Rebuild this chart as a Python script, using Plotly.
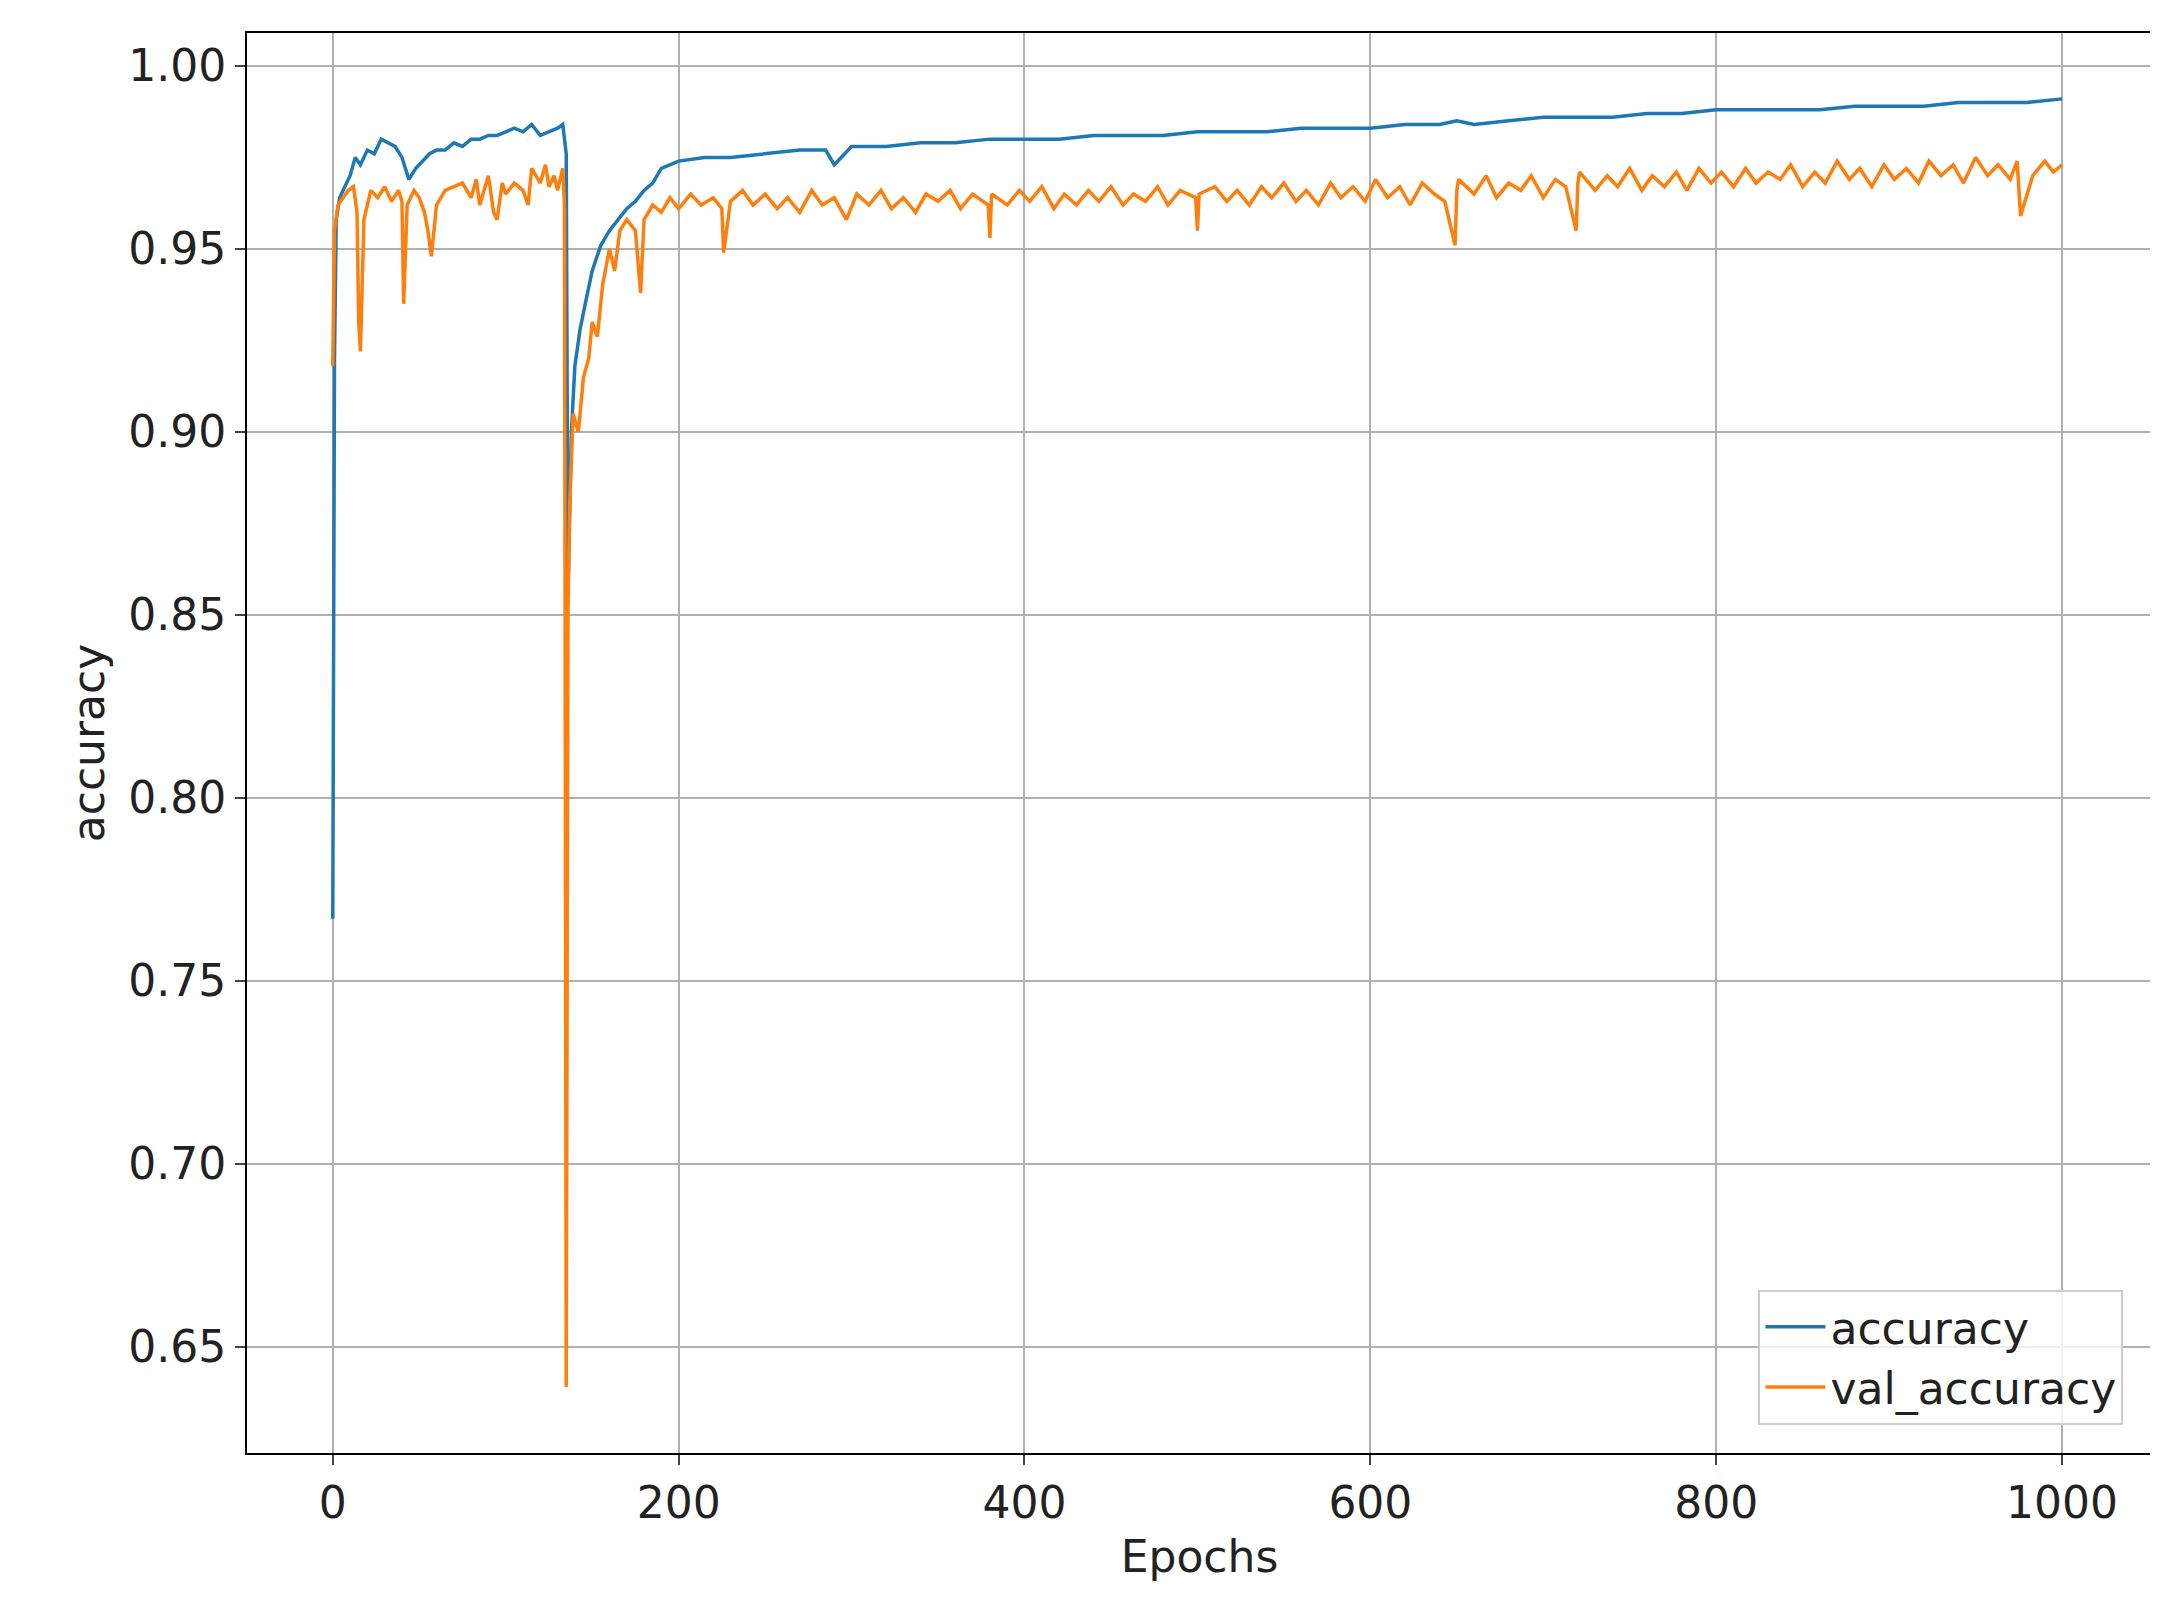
import plotly.graph_objects as go

# values
epochs_acc = [0, 1, 2, 4, 6, 8, 10, 13, 16, 20, 24, 28, 32, 36, 40, 44, 48, 52, 56, 60, 65, 70, 75, 80, 85, 90,
              95, 100, 105, 110, 115, 120, 125, 130, 133, 135, 136, 138, 140, 143, 146, 150, 155, 160, 165,
              170, 175, 180, 185, 190, 200, 215, 230, 250, 270, 285, 290, 300, 320, 340, 360, 380, 400,
              420, 440, 460, 480, 500, 520, 540, 560, 580, 600, 620, 640, 650, 660, 680, 700, 720, 740,
              760, 780, 800, 820, 840, 860, 880, 900, 920, 940, 960, 980, 1000]
accuracy = [0.767, 0.92, 0.958, 0.964, 0.966, 0.968, 0.970, 0.975, 0.973, 0.977, 0.976, 0.980, 0.979, 0.978,
            0.975, 0.969, 0.972, 0.974, 0.976, 0.977, 0.977, 0.979, 0.978, 0.980, 0.980, 0.981,
            0.981, 0.982, 0.983, 0.982, 0.984, 0.981, 0.982, 0.983, 0.984, 0.976, 0.855, 0.900, 0.918,
            0.928, 0.935, 0.944, 0.951, 0.955, 0.958, 0.961, 0.963, 0.966, 0.968, 0.972, 0.974, 0.975,
            0.975, 0.976, 0.977, 0.977, 0.973, 0.978, 0.978, 0.979, 0.979, 0.980, 0.980,
            0.980, 0.981, 0.981, 0.981, 0.982, 0.982, 0.982, 0.983, 0.983, 0.983, 0.984, 0.984, 0.985,
            0.984, 0.985, 0.986, 0.986, 0.986, 0.987, 0.987, 0.988, 0.988, 0.988, 0.988, 0.989, 0.989,
            0.989, 0.990, 0.990, 0.990, 0.991]

epochs_val = [0, 1, 3, 6, 9, 12, 14, 15, 16, 18, 22, 26, 30, 34, 38, 40, 41, 43, 47, 50, 53, 55, 57, 60, 65,
              70, 75, 80, 83, 85, 90, 93, 95, 98, 100, 105, 110, 113, 115, 120, 123, 125, 128, 130, 133,
              134, 135, 136, 137, 139, 142, 145, 148, 150, 153, 156, 160, 163, 166, 170, 175, 178, 180,
              185, 190, 195, 200, 207, 213, 220, 225, 226, 230, 237, 243, 250, 257, 263, 270, 277, 283,
              290, 297, 303, 310, 317, 323, 330, 337, 343, 350, 357, 363, 370, 379, 380, 381, 390, 397,
              403, 410, 417, 423, 430, 437, 443, 450, 457, 463, 470, 477, 483, 490, 499, 500, 501, 510,
              517, 523, 530, 537, 543, 550, 557, 563, 570, 577, 583, 590, 597, 603, 610, 617, 623, 630,
              637, 643, 649, 650, 651, 660, 667, 673, 680, 687, 693, 700, 707, 713, 719, 720, 721, 730,
              737, 743, 750, 757, 763, 770, 777, 783, 790, 797, 803, 810, 817, 823, 830, 837, 843, 850,
              857, 863, 870, 877, 883, 890, 897, 903, 910, 917, 923, 930, 937, 943, 950, 957, 963, 970,
              974, 975, 976, 983, 990, 995, 1000]
val_accuracy = [0.918, 0.955, 0.962, 0.964, 0.966, 0.967, 0.960, 0.930, 0.922, 0.958, 0.966, 0.964, 0.967,
                0.963, 0.966, 0.963, 0.935, 0.962, 0.966, 0.964, 0.960, 0.955, 0.948, 0.962, 0.966,
                0.967, 0.968, 0.964, 0.969, 0.962, 0.970, 0.960, 0.958, 0.968, 0.965, 0.968, 0.966,
                0.962, 0.972, 0.968, 0.973, 0.967, 0.970, 0.966, 0.972, 0.962, 0.639, 0.850, 0.880,
                0.905, 0.900, 0.915, 0.920, 0.930, 0.926, 0.940, 0.950, 0.944, 0.955, 0.958, 0.955, 0.938,
                0.958, 0.962, 0.960, 0.964, 0.961, 0.965, 0.962, 0.964, 0.961, 0.949, 0.963, 0.966, 0.962,
                0.965, 0.961, 0.964, 0.960, 0.966, 0.962, 0.964, 0.958, 0.965, 0.962, 0.966, 0.961, 0.964,
                0.960, 0.965, 0.963, 0.966, 0.961, 0.965, 0.962, 0.953, 0.965, 0.962, 0.966, 0.963, 0.967,
                0.961, 0.965, 0.962, 0.966, 0.963, 0.967, 0.962, 0.965, 0.963, 0.967, 0.962, 0.966, 0.964,
                0.955, 0.965, 0.967, 0.963, 0.966, 0.962, 0.967, 0.964, 0.968, 0.963, 0.966, 0.962, 0.968,
                0.964, 0.967, 0.963, 0.969, 0.964, 0.967, 0.962, 0.968, 0.965, 0.963, 0.951, 0.966, 0.969,
                0.965, 0.970, 0.964, 0.968, 0.966, 0.970, 0.964, 0.969, 0.967, 0.955, 0.968, 0.971, 0.966,
                0.970, 0.967, 0.972, 0.966, 0.970, 0.967, 0.971, 0.966, 0.972, 0.968, 0.971, 0.967, 0.972,
                0.968, 0.971, 0.969, 0.973, 0.967, 0.971, 0.968, 0.974, 0.969, 0.972, 0.967, 0.973, 0.969,
                0.972, 0.968, 0.974, 0.970, 0.973, 0.968, 0.975, 0.970, 0.973, 0.969, 0.974, 0.966, 0.959,
                0.970, 0.974, 0.971, 0.973, 0.969]

fig = go.Figure()
fig.add_trace(go.Scatter(x=epochs_acc, y=accuracy, mode="lines", name="accuracy",
                         line=dict(color="#1f77b4", width=3.5)))
fig.add_trace(go.Scatter(x=epochs_val, y=val_accuracy, mode="lines", name="val_accuracy",
                         line=dict(color="#ff7f0e", width=3.5)))

axis_common = dict(showgrid=True, gridcolor="#b0b0b0", gridwidth=2, showline=True, linecolor="black",
                   linewidth=2, mirror=True, ticks="outside", ticklen=10, tickwidth=2, zeroline=False,
                   tickfont=dict(size=44, color="#222"))
fig.update_xaxes(range=[-49.6, 1052], tickvals=[0, 200, 400, 600, 800, 1000],
                 title=dict(text="Epochs", font=dict(size=44, color="#222"), standoff=14), **axis_common)
fig.update_yaxes(range=[0.621, 1.009], tickvals=[0.65, 0.70, 0.75, 0.80, 0.85, 0.90, 0.95, 1.00],
                 tickformat=".2f", title=dict(text="accuracy", font=dict(size=44, color="#222"), standoff=10),
                 **axis_common)
fig.update_layout(
    width=2158, height=1616, plot_bgcolor="white", paper_bgcolor="white",
    font=dict(family="DejaVu Sans"),
    margin=dict(l=239, r=14, t=25, b=171),
    legend=dict(x=0.985, y=0.02, xanchor="right", yanchor="bottom", bgcolor="rgba(255,255,255,0.8)",
                bordercolor="#ccc", borderwidth=2, font=dict(size=44, color="#222"),
                itemwidth=60, tracegroupgap=10),
)
fig.write_html("out.html")
